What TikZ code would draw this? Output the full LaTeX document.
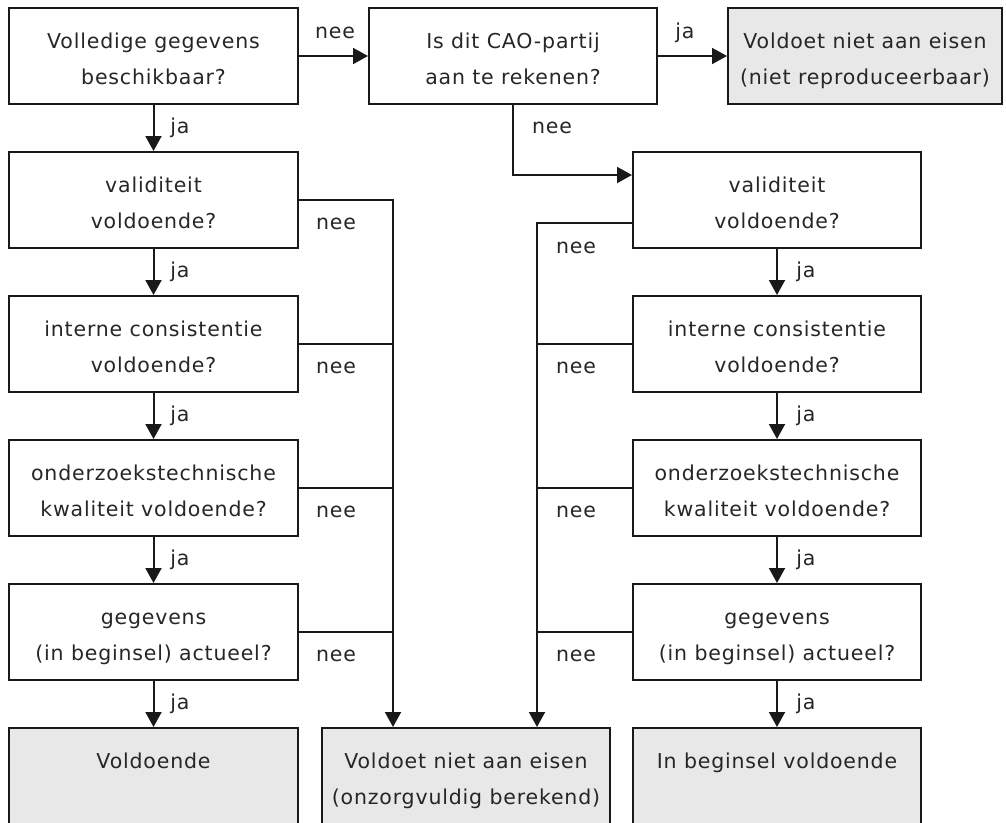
\documentclass[tikz,border=0pt]{standalone}
\usepackage{fontspec}
\setmainfont{DejaVu Sans}[LetterSpace=4.0]
\usetikzlibrary{arrows.meta}
\newcommand{\fsz}{\fontsize{20.5}{36}\selectfont}
\newcommand{\topstr}{\rule{0pt}{27.2pt}}
\newcommand{\botstr}{\rule[-6pt]{0pt}{6pt}}
\newcommand{\twol}[2]{\topstr #1\\#2\botstr}
\begin{document}
\begin{tikzpicture}[x=1pt,y=-1pt,
  box/.style={draw=black!90, line width=2pt, minimum width=288pt, minimum height=96pt,
    inner sep=0pt, align=center, font=\fsz, text=black!85},
  endbox/.style={box, fill=gray!18},
  arr/.style={line width=2pt, draw=black!90, -{Triangle[length=15pt,width=16pt]}},
  ln/.style={line width=2pt, draw=black!90},
  lbl/.style={font=\fsz, text=black!85, inner sep=0pt}]
\useasboundingbox (0,0) rectangle (1006,822);
% top row
\node[box, minimum width=289pt] (A) at (153.5,56) {\twol{Volledige gegevens}{beschikbaar?}};
\node[box] (B) at (513,56) {\twol{Is dit CAO-partij}{aan te rekenen?}};
\node[box, fill=gray!18, minimum width=274pt] (C) at (865,56) {\twol{Voldoet niet aan eisen}{(niet reproduceerbaar)}};
% left column
\node[box, minimum width=289pt] (L1) at (153.5,200) {\twol{validiteit}{voldoende?}};
\node[box, minimum width=289pt] (L2) at (153.5,344) {\twol{interne consistentie}{voldoende?}};
\node[box, minimum width=289pt] (L3) at (153.5,488) {\twol{onderzoekstechnische}{kwaliteit voldoende?}};
\node[box, minimum width=289pt] (L4) at (153.5,632) {\twol{gegevens}{(in beginsel) actueel?}};
\node[endbox, minimum width=289pt] (L5) at (153.5,776) {\twol{Voldoende}{\mbox{}}};
% right column
\node[box] (R1) at (777,200) {\twol{validiteit}{voldoende?}};
\node[box] (R2) at (777,344) {\twol{interne consistentie}{voldoende?}};
\node[box] (R3) at (777,488) {\twol{onderzoekstechnische}{kwaliteit voldoende?}};
\node[box] (R4) at (777,632) {\twol{gegevens}{(in beginsel) actueel?}};
\node[endbox] (R5) at (777,776) {\twol{In beginsel voldoende}{\mbox{}}};
% middle end box
\node[endbox] (M) at (466,776) {\twol{Voldoet niet aan eisen}{(onzorgvuldig berekend)}};
\coordinate (mL) at ([xshift=-73pt]M.north);
\coordinate (mR) at ([xshift=71pt]M.north);
% top connectors
\draw[arr] (A) -- (B);
\node[lbl] at (335,33) {nee};
\draw[arr] (B) -- (C);
\node[lbl] at (685,33) {ja};
\draw[arr] (B.south) |- ([yshift=25pt]R1.west);
\node[lbl] at (552,128) {nee};
% left ja chain
\draw[arr] (A) -- (L1); \node[lbl] at (180,128) {ja};
\draw[arr] (L1) -- (L2); \node[lbl] at (180,272) {ja};
\draw[arr] (L2) -- (L3); \node[lbl] at (180,416) {ja};
\draw[arr] (L3) -- (L4); \node[lbl] at (180,560) {ja};
\draw[arr] (L4) -- (L5); \node[lbl] at (180,704) {ja};
% right ja chain
\draw[arr] (R1) -- (R2); \node[lbl] at (806,272) {ja};
\draw[arr] (R2) -- (R3); \node[lbl] at (806,416) {ja};
\draw[arr] (R3) -- (R4); \node[lbl] at (806,560) {ja};
\draw[arr] (R4) -- (R5); \node[lbl] at (806,704) {ja};
% left nee
\draw[arr] (L1.east) -| (mL);
\draw[ln] (L2.east) -- (L2.east -| mL);
\draw[ln] (L3.east) -- (L3.east -| mL);
\draw[ln] (L4.east) -- (L4.east -| mL);
\node[lbl] at (336,224) {nee};
\node[lbl] at (336,368) {nee};
\node[lbl] at (336,512) {nee};
\node[lbl] at (336,656) {nee};
% right nee
\draw[arr] ([yshift=-23pt]R1.west) -| (mR);
\draw[ln] (R2.west) -- (R2.west -| mR);
\draw[ln] (R3.west) -- (R3.west -| mR);
\draw[ln] (R4.west) -- (R4.west -| mR);
\node[lbl] at (576,248) {nee};
\node[lbl] at (576,368) {nee};
\node[lbl] at (576,512) {nee};
\node[lbl] at (576,656) {nee};
\end{tikzpicture}
\end{document}
